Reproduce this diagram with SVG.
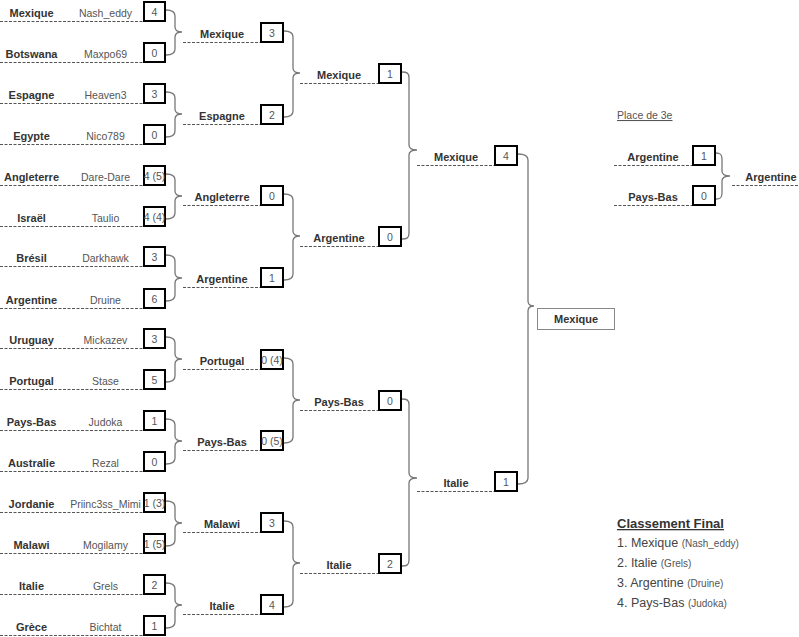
<svg xmlns="http://www.w3.org/2000/svg" width="799" height="637" viewBox="0 0 799 637">
<style>
text{font-family:"Liberation Sans",Arial,sans-serif}
.c{font-size:11px;font-weight:bold;fill:#333;text-anchor:middle}
.p{font-size:10.5px;fill:#555;text-anchor:middle}
.s{font-size:10.5px;fill:#555;text-anchor:middle}
.b{fill:#fff;stroke:#000;stroke-width:2}
.d{stroke:#555;stroke-width:1;stroke-dasharray:3,1.5;fill:none}
.br{fill:none;stroke:#777;stroke-width:1.3}
.fb{fill:#fff;stroke:#888;stroke-width:1}
.lg{font-size:12.5px;fill:#444}
.lgs{font-size:10px;fill:#555}
</style>
<rect width="799" height="637" fill="#fff"/>
<g id="connectors">
<path class="br" d="M166,10 C171,10 175,11 175,16 L175,27 C175,30 177,32 182,32 C177,32 175,34 175,37 L175,49 C175,54 171,55 166,55"/>
<path class="br" d="M166,92 C171,92 175,93 175,98 L175,109 C175,112 177,114 182,114 C177,114 175,116 175,119 L175,131 C175,136 171,137 166,137"/>
<path class="br" d="M166,174 C171,174 175,175 175,180 L175,191 C175,194 177,196 182,196 C177,196 175,198 175,201 L175,213 C175,218 171,219 166,219"/>
<path class="br" d="M166,255 C171,255 175,256 175,261 L175,273 C175,276 177,278 182,278 C177,278 175,280 175,283 L175,295 C175,300 171,301 166,301"/>
<path class="br" d="M166,337 C171,337 175,338 175,343 L175,354 C175,357 177,359 182,359 C177,359 175,361 175,364 L175,376 C175,381 171,382 166,382"/>
<path class="br" d="M166,419 C171,419 175,420 175,425 L175,436 C175,439 177,441 182,441 C177,441 175,443 175,446 L175,458 C175,463 171,464 166,464"/>
<path class="br" d="M166,501 C171,501 175,502 175,507 L175,518 C175,521 177,523 182,523 C177,523 175,525 175,528 L175,540 C175,545 171,546 166,546"/>
<path class="br" d="M166,583 C171,583 175,584 175,589 L175,600 C175,603 177,605 182,605 C177,605 175,607 175,610 L175,622 C175,627 171,628 166,628"/>
<path class="br" d="M284,31 C289,31 293,32 293,37 L293,68 C293,71 295,73 300,73 C295,73 293,75 293,78 L293,111 C293,116 289,117 284,117"/>
<path class="br" d="M284,194 C289,194 293,195 293,200 L293,231 C293,234 295,236 300,236 C295,236 293,238 293,241 L293,274 C293,279 289,280 284,280"/>
<path class="br" d="M284,358 C289,358 293,359 293,364 L293,395 C293,398 295,400 300,400 C295,400 293,402 293,405 L293,437 C293,442 289,443 284,443"/>
<path class="br" d="M284,521 C289,521 293,522 293,527 L293,558 C293,561 295,563 300,563 C295,563 293,565 293,568 L293,601 C293,606 289,607 284,607"/>
<path class="br" d="M402,72 C407,72 409,73 409,78 L409,145 C409,148 411,150 417,150 C411,150 409,152 409,155 L409,233 C409,238 407,239 402,239"/>
<path class="br" d="M402,399 C407,399 409,400 409,405 L409,473 C409,476 411,478 417,478 C411,478 409,480 409,483 L409,560 C409,565 407,566 402,566"/>
<path class="br" d="M518,154 C523,154 528,155 528,160 L528,301 C528,304 530,306 534,306 C530,306 528,308 528,311 L528,478 C528,483 523,484 518,484"/>
<path class="br" d="M716,153 C720,153 722,154 722,159 L722,171 C722,174 724,176 730,176 C724,176 722,178 722,181 L722,193 C722,198 720,199 716,199"/>
</g>
<g id="r1-mexique"><line class="d" x1="0" y1="21.5" x2="143" y2="21.5"/><rect class="b" x="144" y="2" width="21" height="19"/><text class="c" x="31.5" y="17">Mexique</text><text class="p" x="105.5" y="17">Nash_eddy</text><text class="s" x="154.5" y="16">4</text></g>
<g id="r1-botswana"><line class="d" x1="0" y1="62.5" x2="143" y2="62.5"/><rect class="b" x="144" y="43" width="21" height="19"/><text class="c" x="31.5" y="58">Botswana</text><text class="p" x="105.5" y="58">Maxpo69</text><text class="s" x="154.5" y="57">0</text></g>
<g id="r1-espagne"><line class="d" x1="0" y1="103.5" x2="143" y2="103.5"/><rect class="b" x="144" y="84" width="21" height="19"/><text class="c" x="31.5" y="99">Espagne</text><text class="p" x="105.5" y="99">Heaven3</text><text class="s" x="154.5" y="98">3</text></g>
<g id="r1-egypte"><line class="d" x1="0" y1="144.5" x2="143" y2="144.5"/><rect class="b" x="144" y="125" width="21" height="19"/><text class="c" x="31.5" y="140">Egypte</text><text class="p" x="105.5" y="140">Nico789</text><text class="s" x="154.5" y="139">0</text></g>
<g id="r1-angleterre"><line class="d" x1="0" y1="185.5" x2="143" y2="185.5"/><rect class="b" x="144" y="166" width="21" height="19"/><text class="c" x="31.5" y="181">Angleterre</text><text class="p" x="105.5" y="181">Dare-Dare</text><text class="s" x="154.5" y="180">4 (5)</text></g>
<g id="r1-israel"><line class="d" x1="0" y1="226.5" x2="143" y2="226.5"/><rect class="b" x="144" y="207" width="21" height="19"/><text class="c" x="31.5" y="222">Israël</text><text class="p" x="105.5" y="222">Taulio</text><text class="s" x="154.5" y="221">4 (4)</text></g>
<g id="r1-bresil"><line class="d" x1="0" y1="266.5" x2="143" y2="266.5"/><rect class="b" x="144" y="247" width="21" height="19"/><text class="c" x="31.5" y="262">Brésil</text><text class="p" x="105.5" y="262">Darkhawk</text><text class="s" x="154.5" y="261">3</text></g>
<g id="r1-argentine"><line class="d" x1="0" y1="308.5" x2="143" y2="308.5"/><rect class="b" x="144" y="289" width="21" height="19"/><text class="c" x="31.5" y="304">Argentine</text><text class="p" x="105.5" y="304">Druine</text><text class="s" x="154.5" y="303">6</text></g>
<g id="r1-uruguay"><line class="d" x1="0" y1="348.5" x2="143" y2="348.5"/><rect class="b" x="144" y="329" width="21" height="19"/><text class="c" x="31.5" y="344">Uruguay</text><text class="p" x="105.5" y="344">Mickazev</text><text class="s" x="154.5" y="343">3</text></g>
<g id="r1-portugal"><line class="d" x1="0" y1="389.5" x2="143" y2="389.5"/><rect class="b" x="144" y="370" width="21" height="19"/><text class="c" x="31.5" y="385">Portugal</text><text class="p" x="105.5" y="385">Stase</text><text class="s" x="154.5" y="384">5</text></g>
<g id="r1-paysbas"><line class="d" x1="0" y1="430.5" x2="143" y2="430.5"/><rect class="b" x="144" y="411" width="21" height="19"/><text class="c" x="31.5" y="426">Pays-Bas</text><text class="p" x="105.5" y="426">Judoka</text><text class="s" x="154.5" y="425">1</text></g>
<g id="r1-australie"><line class="d" x1="0" y1="471.5" x2="143" y2="471.5"/><rect class="b" x="144" y="452" width="21" height="19"/><text class="c" x="31.5" y="467">Australie</text><text class="p" x="105.5" y="467">Rezal</text><text class="s" x="154.5" y="466">0</text></g>
<g id="r1-jordanie"><line class="d" x1="0" y1="512.5" x2="143" y2="512.5"/><rect class="b" x="144" y="493" width="21" height="19"/><text class="c" x="31.5" y="508">Jordanie</text><text class="p" x="105.5" y="508">Priinc3ss_Mimi</text><text class="s" x="154.5" y="507">1 (3)</text></g>
<g id="r1-malawi"><line class="d" x1="0" y1="553.5" x2="143" y2="553.5"/><rect class="b" x="144" y="534" width="21" height="19"/><text class="c" x="31.5" y="549">Malawi</text><text class="p" x="105.5" y="549">Mogilamy</text><text class="s" x="154.5" y="548">1 (5)</text></g>
<g id="r1-italie"><line class="d" x1="0" y1="594.5" x2="143" y2="594.5"/><rect class="b" x="144" y="575" width="21" height="19"/><text class="c" x="31.5" y="590">Italie</text><text class="p" x="105.5" y="590">Grels</text><text class="s" x="154.5" y="589">2</text></g>
<g id="r1-grece"><line class="d" x1="0" y1="635.5" x2="143" y2="635.5"/><rect class="b" x="144" y="616" width="21" height="19"/><text class="c" x="31.5" y="631">Grèce</text><text class="p" x="105.5" y="631">Bichtat</text><text class="s" x="154.5" y="630">1</text></g>
<g id="r2-mexique"><line class="d" x1="183" y1="42.5" x2="260" y2="42.5"/><rect class="b" x="261" y="23" width="22" height="19"/><text class="c" x="222" y="38">Mexique</text><text class="s" x="272" y="37">3</text></g>
<g id="r2-espagne"><line class="d" x1="183" y1="124.5" x2="260" y2="124.5"/><rect class="b" x="261" y="105" width="22" height="19"/><text class="c" x="222" y="120">Espagne</text><text class="s" x="272" y="119">2</text></g>
<g id="r2-angleterre"><line class="d" x1="183" y1="205.5" x2="260" y2="205.5"/><rect class="b" x="261" y="186" width="22" height="19"/><text class="c" x="222" y="201">Angleterre</text><text class="s" x="272" y="200">0</text></g>
<g id="r2-argentine"><line class="d" x1="183" y1="287.5" x2="260" y2="287.5"/><rect class="b" x="261" y="268" width="22" height="19"/><text class="c" x="222" y="283">Argentine</text><text class="s" x="272" y="282">1</text></g>
<g id="r2-portugal"><line class="d" x1="183" y1="369.5" x2="260" y2="369.5"/><rect class="b" x="261" y="350" width="22" height="19"/><text class="c" x="222" y="365">Portugal</text><text class="s" x="272" y="364">0 (4)</text></g>
<g id="r2-paysbas"><line class="d" x1="183" y1="450.5" x2="260" y2="450.5"/><rect class="b" x="261" y="431" width="22" height="19"/><text class="c" x="222" y="446">Pays-Bas</text><text class="s" x="272" y="445">0 (5)</text></g>
<g id="r2-malawi"><line class="d" x1="183" y1="532.5" x2="260" y2="532.5"/><rect class="b" x="261" y="513" width="22" height="19"/><text class="c" x="222" y="528">Malawi</text><text class="s" x="272" y="527">3</text></g>
<g id="r2-italie"><line class="d" x1="183" y1="614.5" x2="260" y2="614.5"/><rect class="b" x="261" y="595" width="22" height="19"/><text class="c" x="222" y="610">Italie</text><text class="s" x="272" y="609">4</text></g>
<g id="r3-mexique"><line class="d" x1="300" y1="83.5" x2="378" y2="83.5"/><rect class="b" x="379" y="64" width="22" height="19"/><text class="c" x="339" y="79">Mexique</text><text class="s" x="390" y="78">1</text></g>
<g id="r3-argentine"><line class="d" x1="300" y1="246.5" x2="378" y2="246.5"/><rect class="b" x="379" y="227" width="22" height="19"/><text class="c" x="339" y="242">Argentine</text><text class="s" x="390" y="241">0</text></g>
<g id="r3-paysbas"><line class="d" x1="300" y1="410.5" x2="378" y2="410.5"/><rect class="b" x="379" y="391" width="22" height="19"/><text class="c" x="339" y="406">Pays-Bas</text><text class="s" x="390" y="405">0</text></g>
<g id="r3-italie"><line class="d" x1="300" y1="573.5" x2="378" y2="573.5"/><rect class="b" x="379" y="554" width="22" height="19"/><text class="c" x="339" y="569">Italie</text><text class="s" x="390" y="568">2</text></g>
<g id="r4-mexique"><line class="d" x1="417" y1="165.5" x2="494" y2="165.5"/><rect class="b" x="495" y="146" width="22" height="19"/><text class="c" x="456" y="161">Mexique</text><text class="s" x="506" y="160">4</text></g>
<g id="r4-italie"><line class="d" x1="417" y1="491.5" x2="494" y2="491.5"/><rect class="b" x="495" y="472" width="22" height="19"/><text class="c" x="456" y="487">Italie</text><text class="s" x="506" y="486">1</text></g>
<g id="champion"><rect class="fb" x="537.5" y="308.5" width="77" height="21"/><text class="c" x="576" y="323">Mexique</text></g>
<g id="third-title"><text x="617" y="119" font-size="10.5" fill="#555" text-decoration="underline">Place de 3e</text></g>
<g id="third-argentine"><line class="d" x1="614" y1="165.5" x2="692" y2="165.5"/><rect class="b" x="693" y="146" width="22" height="19"/><text class="c" x="653" y="161">Argentine</text><text class="s" x="704" y="160">1</text></g>
<g id="third-paysbas"><line class="d" x1="614" y1="205.5" x2="692" y2="205.5"/><rect class="b" x="693" y="186" width="22" height="19"/><text class="c" x="653" y="201">Pays-Bas</text><text class="s" x="704" y="200">0</text></g>
<g id="third-winner"><line class="d" x1="732" y1="185.5" x2="799" y2="185.5"/><text class="c" x="771" y="181">Argentine</text></g>
<g id="classement">
<text x="617" y="528" font-size="13" font-weight="bold" fill="#333" text-decoration="underline">Classement Final</text>
<text class="lg" x="617" y="547">1. Mexique <tspan class="lgs">(Nash_eddy)</tspan></text>
<text class="lg" x="617" y="567">2. Italie <tspan class="lgs">(Grels)</tspan></text>
<text class="lg" x="617" y="587">3. Argentine <tspan class="lgs">(Druine)</tspan></text>
<text class="lg" x="617" y="607">4. Pays-Bas <tspan class="lgs">(Judoka)</tspan></text>
</g>
</svg>
